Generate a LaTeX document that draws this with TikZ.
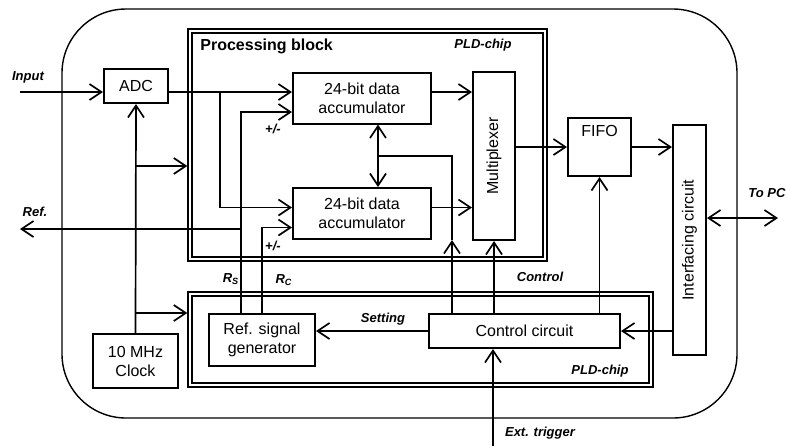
\documentclass[tikz,border=0pt]{standalone}
\usepackage{fontspec}
\setmainfont{Liberation Sans}
\usetikzlibrary{arrows.meta,positioning,calc}
\definecolor{ink}{HTML}{000000}
\definecolor{paper}{HTML}{FFFFFF}

\begin{document}
\begin{tikzpicture}[
  x=0.5pt, y=-0.5pt,
  font=\fontsize{8}{9.5}\selectfont, >={Straight Barb[length=6pt,width=8pt]},
  every node/.append style={text=ink},
  block/.style={draw=ink, line width=1pt, fill=paper, align=center, inner sep=1pt},
  chip/.style={draw=ink, double=paper, double distance=1.3pt, line width=0.7pt, outer sep=1.35pt, inner sep=0pt},
  tag/.style={font=\fontsize{6.5}{7.5}\selectfont\bfseries\itshape, inner sep=1pt},
  wire/.style={draw=ink, line width=0.85pt},
]
\useasboundingbox (0,0) rectangle (787,446);
% (a) housing and the two PLD chips
\node[draw=ink, line width=0.7pt, rounded corners=32pt, minimum width=337.5pt, minimum height=204.5pt] (case) at (399.5,213.5) {};
\node[chip, minimum width=177.5pt, minimum height=114pt] (proc) at (367.5,145) {};
\node[chip, minimum width=230.5pt, minimum height=45.5pt] (pld) at (420.5,339.5) {};
\node[font=\fontsize{8}{9.5}\selectfont\bfseries, anchor=west, inner sep=1pt] (proctitle) at (198,46) {Processing block};
\node[tag] (proctag) at (483,45) {PLD-chip};
\node[tag] (pldtag) at (600,371) {PLD-chip};
% (b) blocks
\node[block, minimum width=32pt, minimum height=17pt] (adc) at (136,86) {ADC};
\node[block, minimum width=69pt, minimum height=25.5pt] (acc1) at (362,98) {24-bit data\\accumulator};
\node[block, minimum width=69pt, minimum height=25.5pt, below=31.25pt of acc1] (acc2) {24-bit data\\accumulator};
\node[block, minimum width=21pt, minimum height=84pt, label={[rotate=90]center:Multiplexer}] (mux) at (494,156) {};
\node[block, minimum width=31.5pt, minimum height=29pt, label={[anchor=north, inner sep=4pt]north:FIFO}] (fifo) at (599.5,147) {};
\node[block, minimum width=16.5pt, minimum height=115pt, label={[rotate=90]center:Interfacing circuit}] (intf) at (689.5,240) {};
\node[block, minimum width=95.5pt, minimum height=17pt] (ctrl) at (524.5,331) {Control circuit};
\node[block, minimum width=53pt, minimum height=26pt] (refgen) at (262,340) {Ref. signal\\generator};
\node[block, minimum width=42.5pt, minimum height=27pt] (clk) at (135.5,361) {10 MHz\\Clock};
% (c) free ends and junctions
\coordinate (inp) at (20,92);
\coordinate (dsplit) at (220,92);
\coordinate (rs) at (241,229);
\coordinate (refout) at (20,229);
\coordinate (cbus) at (378,156);
\coordinate (ctl) at (452,156);
\coordinate (pc) at (778,218);
\coordinate (trig) at (493,446);
\coordinate (ck1) at (136,166);
\coordinate (ck2) at (136,313);
% (d) data path
\draw[wire,->] (inp) -- ([yshift=-3pt]adc.west);
\draw[wire,->] ([yshift=-3pt]adc.east) -- ([yshift=3pt]acc1.west);
\draw[wire,->] (dsplit) |- ([yshift=3pt]acc2.west);
\draw[wire,->] ([yshift=3pt]acc1.east) -- ([yshift=3pt]acc1.east -| mux.west);
\draw[wire,->] ([yshift=3pt]acc2.east) -- ([yshift=3pt]acc2.east -| mux.west);
\draw[wire,<->] (cbus |- acc1.south) -- (cbus |- acc2.north);
\draw[wire,->] (mux.east |- fifo) -- (fifo.west);
\draw[wire,->] (fifo.east) -- (fifo.east -| intf.west);
\draw[wire,<->] (intf.east |- pc) -- (pc);
% (e) control lines
\draw[wire,->] (ctl |- ctrl.north) -- (ctl |- acc2.south);
\draw[wire] (ctl |- acc2.south) -- (ctl) -- (cbus);
\draw[wire,->] (ctrl.north -| mux) -- (mux.south);
\draw[wire,->] (ctrl.north -| fifo) -- (fifo.south);
\draw[wire,->] (intf.west |- ctrl) -- (ctrl.east);
\draw[wire,->] (ctrl.west) -- (ctrl.west -| refgen.east);
\draw[wire,->] (trig) -- (trig |- ctrl.south);
% (f) clock and reference signals
\draw[wire,->] (clk.north) -- (adc.south);
\draw[wire,->] (ck1) -- (ck1 -| proc.west);
\draw[wire,->] (ck2) -- (ck2 -| pld.west);
\draw[wire,->] (refgen.north -| rs) |- ([yshift=-7pt]acc1.west);
\draw[wire,->] (rs) -- (refout);
\draw[wire,->] (refgen.north) |- ([yshift=-7pt]acc2.west);
% labels
\node[tag] (inlbl) at (28,77) {Input};
\node[tag] (reflbl) at (35,212) {Ref.};
\node[tag] (pclbl) at (767,193) {To PC};
\node[tag] (setlbl) at (383,319) {Setting};
\node[tag] (ctllbl) at (540,277) {Control};
\node[tag] (triglbl) at (540,433) {Ext. trigger};
\node[tag] (rslbl) at (231,279) {R\textsubscript{S}};
\node[tag] (rclbl) at (284,280) {R\textsubscript{C}};
\node[tag] (sign1) at (273,129) {+/-};
\node[tag] (sign2) at (273,246) {+/-};
\end{tikzpicture}
\end{document}
